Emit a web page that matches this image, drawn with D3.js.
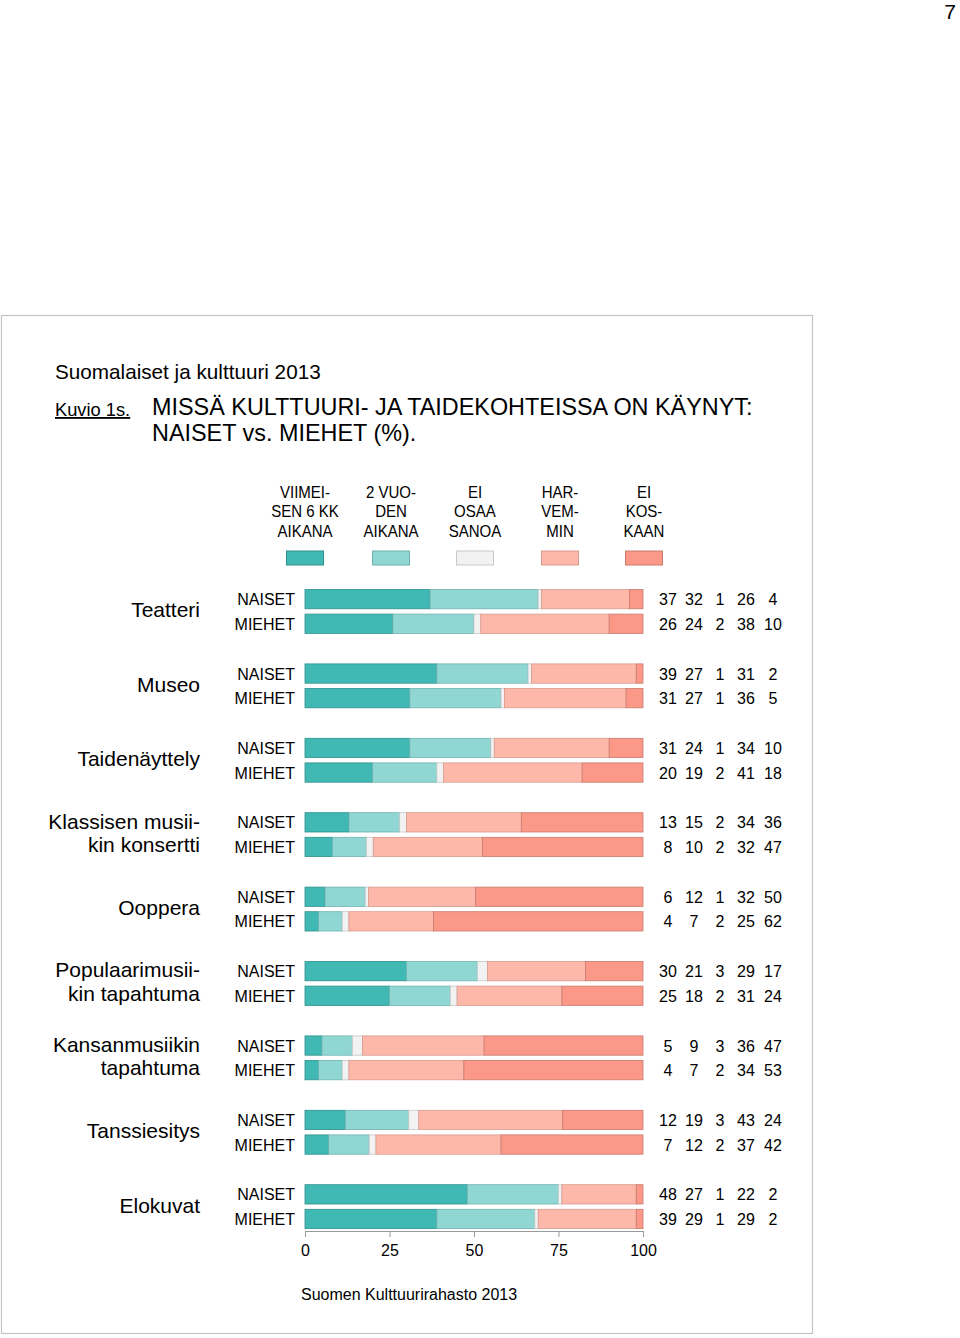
<!DOCTYPE html>
<html><head><meta charset="utf-8">
<script src="https://cdn.jsdelivr.net/npm/d3@7"></script>
<style>body{margin:0;background:#fff}svg{display:block;font-family:"Liberation Sans",Arial,sans-serif}</style>
</head><body><svg id="c" width="960" height="1338"></svg>
<script>
const categories = [["Teatteri"],["Museo"],["Taidenäyttely"],["Klassisen musii-","kin konsertti"],["Ooppera"],["Populaarimusii-","kin tapahtuma"],["Kansanmusiikin","tapahtuma"],["Tanssiesitys"],["Elokuvat"]];
const groups = ["NAISET","MIEHET"];
const seriesNames = [["VIIMEI-","SEN 6 KK","AIKANA"],["2 VUO-","DEN","AIKANA"],["EI","OSAA","SANOA"],["HAR-","VEM-","MIN"],["EI","KOS-","KAAN"]];
const naiset = [[37,32,1,26,4],[39,27,1,31,2],[31,24,1,34,10],[13,15,2,34,36],[6,12,1,32,50],[30,21,3,29,17],[5,9,3,36,47],[12,19,3,43,24],[48,27,1,22,2]];
const miehet = [[26,24,2,38,10],[31,27,1,36,5],[20,19,2,41,18],[8,10,2,32,47],[4,7,2,25,62],[25,18,2,31,24],[4,7,2,34,53],[7,12,2,37,42],[39,29,1,29,2]];
const ticks = [0,25,50,75,100];
const colors = ["#40b8b4","#90d6d3","#f2f2f2","#fdb8aa","#fb9888"];
const strokes = ["#2f908c","#6fb3b0","#c8c8c8","#d99a8d","#c87a6e"];

const svg = d3.select("#c");
const x = d3.scaleLinear().domain([0,100]).range([305,643]);
const yGroup = d3.scaleLinear().domain([0,8]).range([589.5,1184.7]);
const barH = 19.3, rowGap = 24.6;

// frame
svg.append("rect").attr("x",1.5).attr("y",315.5).attr("width",811).attr("height",1018)
  .attr("fill","none").attr("stroke","#c4c4c4").attr("stroke-width",1.2);
svg.append("text").attr("x",950).attr("y",19).attr("text-anchor","middle").attr("font-size",21).text("7");

svg.append("text").attr("x",55).attr("y",379).attr("font-size",20.7).text("Suomalaiset ja kulttuuri 2013");
svg.append("text").attr("x",55).attr("y",416).attr("font-size",18.3).attr("text-decoration","underline").text("Kuvio 1s.");
svg.append("text").attr("x",152).attr("y",415).attr("font-size",23.4).text("MISSÄ KULTTUURI- JA TAIDEKOHTEISSA ON KÄYNYT:");
svg.append("text").attr("x",152).attr("y",441).attr("font-size",23.4).text("NAISET vs. MIEHET (%).");

// legend
const legX = [305,391,475,560,644];
seriesNames.forEach((lines,i)=>{
  const t = svg.append("text").attr("text-anchor","middle").attr("font-size",16)
    .attr("transform",`translate(${legX[i]},0) scale(0.94,1)`);
  lines.forEach((l,j)=>t.append("tspan").attr("x",0).attr("y",498+j*19.5).text(l));
  svg.append("rect").attr("x",legX[i]-18.5).attr("y",551).attr("width",37).attr("height",14)
    .attr("fill",colors[i]).attr("stroke",strokes[i]).attr("stroke-width",1);
});

const valX = [668,694,720,746,773];
categories.forEach((cat,ci)=>{
  const top = yGroup(ci);
  const ct = svg.append("text").attr("text-anchor","end").attr("font-size",21);
  const cy = top + (rowGap + barH)/2 + 6;
  if (cat.length===1) ct.append("tspan").attr("x",200).attr("y",cy).text(cat[0]);
  else cat.forEach((l,j)=>ct.append("tspan").attr("x",200).attr("y",cy-12+j*23.5).text(l));
  [naiset[ci],miehet[ci]].forEach((vals,gi)=>{
    const by = top + gi*rowGap;
    svg.append("text").attr("x",295).attr("y",by+barH/2+6).attr("text-anchor","end").attr("font-size",16).text(groups[gi]);
    const sum = d3.sum(vals);
    let acc = 0;
    vals.forEach((v,k)=>{
      const x0 = x(acc/sum*100), x1 = x((acc+v)/sum*100);
      acc += v;
      svg.append("rect").attr("x",x0).attr("y",by).attr("width",Math.max(0,x1-x0)).attr("height",barH)
        .attr("fill",colors[k]).attr("stroke",strokes[k]).attr("stroke-width",0.8);
      svg.append("text").attr("x",valX[k]).attr("y",by+barH/2+6).attr("text-anchor","middle").attr("font-size",16).text(v);
    });
  });
});

// axis
const ax = svg.append("g").attr("transform","translate(0,1231)")
  .call(d3.axisBottom(x).tickValues(ticks).tickSize(6).tickPadding(8));
ax.select(".domain").attr("stroke","#999");
ax.selectAll(".tick line").attr("stroke","#999");
ax.selectAll(".tick text").attr("font-size",16).attr("font-family","Liberation Sans, Arial, sans-serif").attr("fill","#000");

svg.append("text").attr("x",301).attr("y",1300).attr("font-size",16).text("Suomen Kulttuurirahasto 2013");
</script></body></html>
